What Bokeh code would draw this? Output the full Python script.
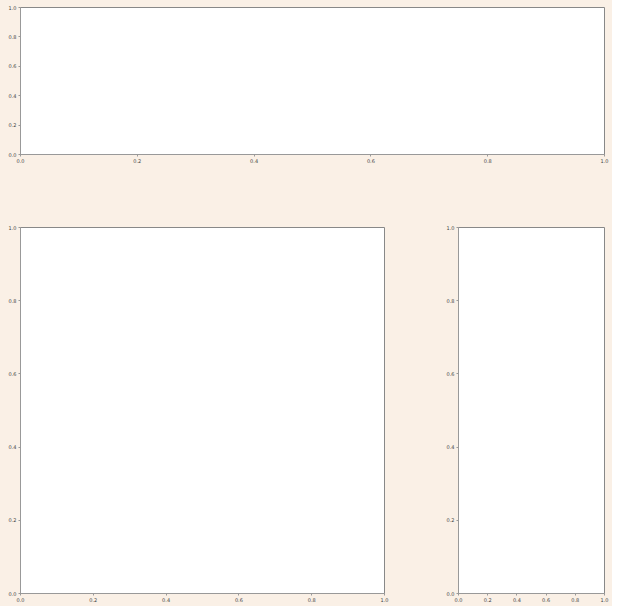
from bokeh.plotting import figure
from bokeh.layouts import column, row
from bokeh.embed import file_html
from bokeh.resources import INLINE
from bokeh.models import FixedTicker, Range1d

ticks = [0.0, 0.2, 0.4, 0.6, 0.8, 1.0]
tick_labels = {t: f"{t:.1f}" for t in ticks}
BG = "#FAF0E6"

def make(w, h, left, right, top, bottom):
    p = figure(width=w, height=h, output_backend="svg", toolbar_location=None,
               x_range=Range1d(0, 1), y_range=Range1d(0, 1),
               min_border_left=left, min_border_right=right,
               min_border_top=top, min_border_bottom=bottom)
    p.border_fill_color = BG
    p.background_fill_color = "white"
    p.outline_line_color = "#888888"
    p.outline_line_width = 1
    p.grid.visible = False
    p.styles = {"background-color": BG}
    for ax in (p.xaxis[0], p.yaxis[0]):
        ax.ticker = FixedTicker(ticks=ticks)
        ax.major_label_overrides = tick_labels
        ax.major_label_text_font_size = "5px"
        ax.major_label_text_color = "#444444"
        ax.major_label_text_font = "DejaVu Sans"
        ax.major_tick_in = 0
        ax.major_tick_out = 2
        ax.minor_tick_out = 0
        ax.minor_tick_in = 0
        ax.axis_line_color = "#999999"
        ax.major_tick_line_color = "#999999"
        ax.major_label_standoff = 2
    return p

p_top = make(612, 200, 20, 8, 7, 46)
p_bl = make(420, 406, 20, 36, 27, 13)
p_br = make(192, 406, 38, 8, 27, 13)

bottom = row(p_bl, p_br, spacing=0)
bottom.styles = {"background-color": BG}
layout = column(p_top, bottom, spacing=0)
layout.styles = {"margin": "0", "padding": "0", "background-color": BG}
open("out.html", "w").write(file_html(layout, INLINE))
